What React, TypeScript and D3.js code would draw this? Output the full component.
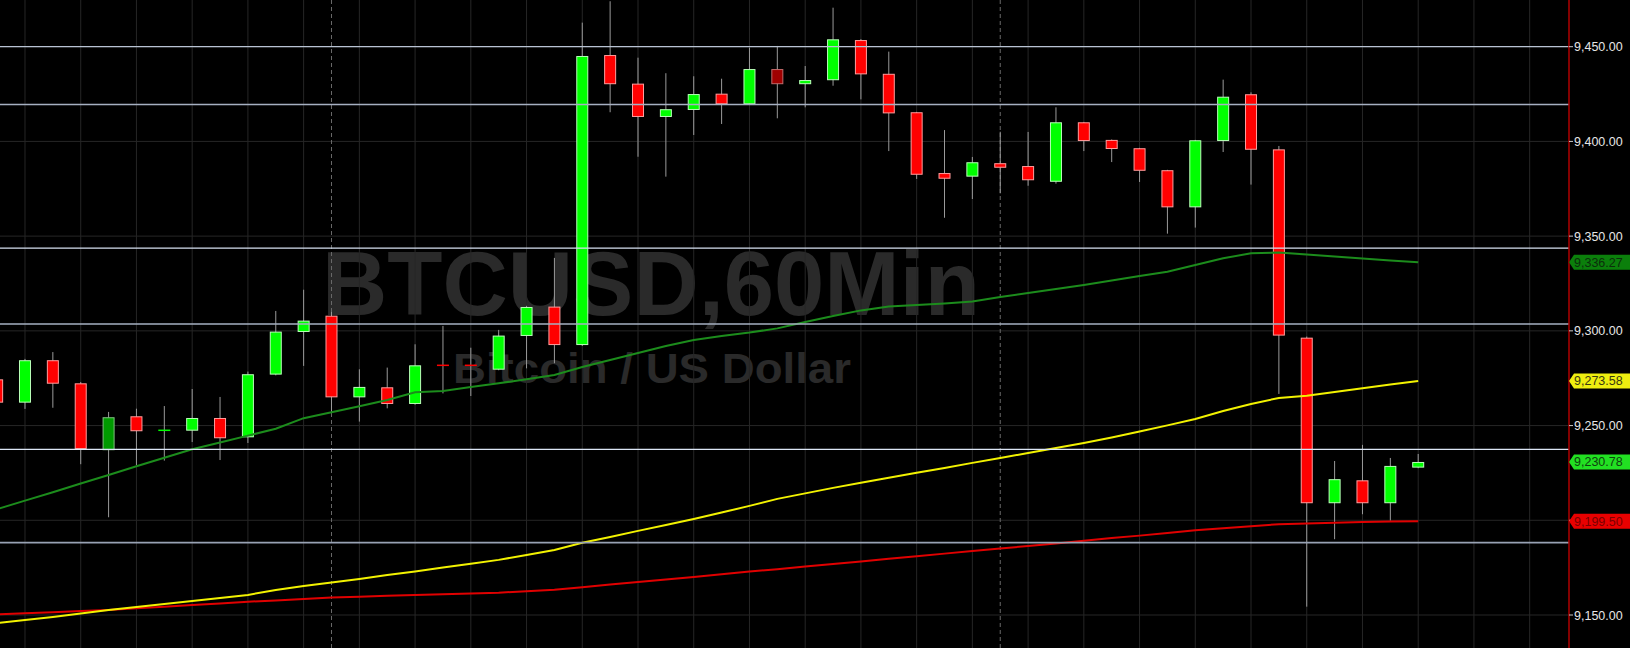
import React from 'react';
import * as d3 from 'd3';

// ---- data (BTCUSD 60 min) ----
const opens = [9274.4, 9262.1, 9284.5, 9272.3, 9237.0, 9254.9, 9247.3, 9247.3, 9254.0, 9243.8,
  9276.9, 9299.4, 9308.0, 9264.9, 9270.2, 9261.4, 9282.0, 9282.0, 9279.5, 9297.3,
  9312.8, 9292.5, 9445.6, 9430.5, 9412.9, 9416.6, 9425.2, 9419.6, 9438.2, 9430.2,
  9432.3, 9453.5, 9435.7, 9415.4, 9383.3, 9381.4, 9388.5, 9387.0, 9378.7, 9410.1,
  9400.8, 9396.4, 9384.8, 9365.2, 9400.2, 9424.9, 9395.8, 9296.4, 9209.0, 9221.1,
  9209.0, 9227.8];
const highs = [9278.0, 9285.2, 9288.8, 9273.0, 9257.2, 9258.9, 9260.3, 9269.3, 9265.1, 9278.5,
  9310.5, 9321.7, 9310.0, 9279.7, 9280.6, 9292.9, 9302.6, 9291.1, 9300.5, 9313.2,
  9338.5, 9462.7, 9474.0, 9444.2, 9436.0, 9434.4, 9433.1, 9449.5, 9450.4, 9439.8,
  9470.6, 9454.0, 9447.4, 9415.6, 9406.0, 9391.8, 9405.1, 9405.0, 9418.0, 9410.3,
  9401.0, 9396.6, 9385.0, 9400.8, 9432.6, 9425.9, 9397.6, 9297.0, 9231.3, 9239.8,
  9232.9, 9235.0];
const lows = [9258.0, 9258.8, 9259.4, 9229.6, 9201.6, 9229.2, 9231.5, 9241.3, 9231.8, 9240.8,
  9276.5, 9281.5, 9257.2, 9252.1, 9259.1, 9261.0, 9267.0, 9265.6, 9279.2, 9280.2,
  9282.9, 9292.0, 9415.4, 9391.9, 9381.4, 9403.4, 9409.2, 9419.4, 9412.2, 9418.0,
  9429.4, 9422.2, 9394.9, 9380.2, 9359.7, 9369.6, 9372.6, 9376.6, 9377.7, 9394.9,
  9389.1, 9378.6, 9351.3, 9354.5, 9394.4, 9377.2, 9266.7, 9154.4, 9190.0, 9203.2,
  9199.8, 9227.5];
const closes = [9262.1, 9284.5, 9272.1, 9237.6, 9254.4, 9247.0, 9247.7, 9254.0, 9243.3, 9277.1,
  9299.6, 9305.4, 9264.9, 9270.4, 9261.4, 9281.8, 9281.6, 9281.6, 9297.5, 9312.6,
  9292.5, 9445.1, 9430.2, 9412.9, 9417.0, 9425.0, 9419.6, 9438.2, 9430.2, 9432.4,
  9453.9, 9435.4, 9414.8, 9382.4, 9380.3, 9389.0, 9386.1, 9379.5, 9410.1, 9400.2,
  9396.0, 9384.5, 9365.2, 9400.6, 9423.6, 9395.6, 9297.5, 9209.0, 9221.7, 9209.0,
  9228.7, 9230.78];

// moving averages
const greenMA = [9205.9, 9210.4, 9214.8, 9219.4, 9223.9, 9228.5, 9233.0, 9237.5, 9241.1, 9244.7,
  9248.3, 9253.9, 9257.0, 9260.2, 9263.5, 9267.6, 9268.3, 9270.4, 9272.3, 9274.5,
  9276.7, 9280.9, 9284.6, 9288.3, 9292.0, 9295.2, 9297.3, 9299.1, 9301.3, 9304.7,
  9307.8, 9310.8, 9312.9, 9313.7, 9314.5, 9315.5, 9317.9, 9320.0, 9322.1, 9324.2,
  9326.6, 9329.0, 9331.2, 9334.8, 9338.3, 9340.9, 9341.3, 9340.3, 9339.3, 9338.2,
  9337.2, 9336.27];
const yellowMA = [9145.8, 9147.3, 9149.0, 9150.8, 9152.7, 9154.2, 9155.8, 9157.4, 9159.0, 9160.6,
  9163.2, 9165.3, 9167.2, 9169.0, 9171.1, 9173.0, 9175.1, 9177.0, 9179.1, 9181.7,
  9184.3, 9188.1, 9191.2, 9194.4, 9197.5, 9200.7, 9204.1, 9207.6, 9211.3, 9214.2,
  9217.1, 9219.8, 9222.4, 9225.1, 9227.6, 9230.3, 9232.9, 9235.5, 9238.2, 9240.8,
  9243.7, 9246.9, 9250.1, 9253.5, 9257.7, 9261.4, 9264.6, 9265.8, 9267.7, 9269.7,
  9271.7, 9273.58];
const redMA = [9150.3, 9150.9, 9151.5, 9152.1, 9152.7, 9153.6, 9154.4, 9155.3, 9156.1, 9157.0,
  9157.7, 9158.4, 9159.2, 9159.6, 9160.1, 9160.6, 9161.0, 9161.4, 9161.8, 9162.6,
  9163.3, 9164.7, 9166.1, 9167.4, 9168.8, 9170.1, 9171.5, 9172.9, 9174.2, 9175.6,
  9176.9, 9178.3, 9179.7, 9181.0, 9182.4, 9183.8, 9185.1, 9186.4, 9187.8, 9189.2,
  9190.6, 9191.9, 9193.3, 9194.7, 9195.8, 9196.9, 9197.9, 9198.3, 9198.7, 9199.1,
  9199.3, 9199.5];

const yTicks = [9150, 9200, 9250, 9300, 9350, 9400, 9450];
const levelPrices = [9450, 9419.5, 9343.7, 9303.6, 9237.4, 9188.2];
const sessionBreaks = [12, 36];
const mutedCandles = [4, 28];
const lastValues = [9336.27, 9273.58, 9230.78, 9199.5];

const levelStyles = [
  { c: '#b8c2d2', w: 1.3 },
  { c: '#a6b0c2', w: 1.6 },
  { c: '#d6e0f0', w: 1.2 },
  { c: '#a6b0c2', w: 1.6 },
  { c: '#dce6f6', w: 1.2 },
  { c: '#98a2b4', w: 1.8 },
];
const tagStyles = [
  { bg: '#0b7f0b', fg: '#0c2e0c' },
  { bg: '#eeee10', fg: '#3a3a10' },
  { bg: '#22e022', fg: '#104010' },
  { bg: '#e80000', fg: '#7a0000' },
];

const fmt = d3.format(',.2f');

export default function App() {
  const W = 1630;
  const H = 648;
  const axisX = 1569;
  const x = d3.scaleLinear().domain([0, 51]).range([-2.87, 1418.2]);
  const y = d3.scaleLinear().domain([9150, 9450]).range([615, 46.7]);
  const n = opens.length;
  const gridIdx = d3.range(1, 60, 2).filter((i) => x(i) < axisX - 2);
  const line = d3
    .line<number>()
    .x((_, i) => x(i))
    .y((v) => y(v));
  const font = "'Liberation Sans', Arial, sans-serif";
  const bodyW = 12;

  return (
    <div style={{ position: 'absolute', left: 0, top: 0, width: W, height: H, overflow: 'hidden' }}>
      <svg width={W} height={H} style={{ display: 'block', background: '#000' }}>
        <rect x={0} y={0} width={W} height={H} fill="#000" />
        {/* watermark */}
        <text x={322} y={315} fontFamily={font} fontWeight="bold" fontSize={91} fill="#2a2a2a"
          textLength={658} lengthAdjust="spacingAndGlyphs">BTCUSD,60Min</text>
        <text x={453} y={383} fontFamily={font} fontWeight="bold" fontSize={43} fill="#2a2a2a"
          textLength={398} lengthAdjust="spacingAndGlyphs">Bitcoin / US Dollar</text>
        {/* grid */}
        {yTicks.map((t) => (
          <line key={'hg' + t} x1={0} x2={axisX} y1={y(t)} y2={y(t)} stroke="#262626" strokeWidth={1} />
        ))}
        {gridIdx.map((i) => (
          <line key={'vg' + i} x1={x(i)} x2={x(i)} y1={0} y2={H} stroke="#262626" strokeWidth={1} />
        ))}
        {sessionBreaks.map((i) => (
          <line key={'sb' + i} x1={x(i)} x2={x(i)} y1={0} y2={H} stroke="#6a6a6a" strokeWidth={1}
            strokeDasharray="4,3" />
        ))}
        {/* candles */}
        {opens.map((o, i) => {
          const c = closes[i];
          const up = c >= o;
          const muted = mutedCandles.includes(i);
          const fill = up ? (muted ? '#009a00' : '#00ff00') : (muted ? '#a00000' : '#ff0000');
          const stroke = up ? (muted ? '#80c080' : '#b8ffb8') : (muted ? '#c06a6a' : '#ff9c9c');
          const cx = x(i);
          const top = y(Math.max(o, c));
          const bot = y(Math.min(o, c));
          const h = bot - top;
          return (
            <g key={'c' + i}>
              <line x1={cx} x2={cx} y1={y(highs[i])} y2={y(lows[i])} stroke="#9a9a9a" strokeWidth={1} />
              {h < 2 ? (
                <rect x={cx - bodyW / 2} y={(top + bot) / 2 - 0.75} width={bodyW} height={1.5} fill={fill} />
              ) : (
                <rect x={cx - bodyW / 2 + 0.5} y={top + 0.5} width={bodyW - 1} height={h - 1} fill={fill}
                  stroke={stroke} strokeWidth={1} />
              )}
            </g>
          );
        })}
        {/* moving averages */}
        <path d={line(redMA) || ''} fill="none" stroke="#e00000" strokeWidth={2} />
        <path d={line(yellowMA) || ''} fill="none" stroke="#f2f200" strokeWidth={2} />
        <path d={line(greenMA) || ''} fill="none" stroke="#1c8c1c" strokeWidth={2} />
        {/* level lines */}
        {levelPrices.map((p, i) => (
          <line key={'lv' + i} x1={0} x2={axisX} y1={y(p)} y2={y(p)} stroke={levelStyles[i].c}
            strokeWidth={levelStyles[i].w} />
        ))}
        {/* axis */}
        <rect x={axisX} y={0} width={W - axisX} height={H} fill="#000" />
        <line x1={axisX} x2={axisX} y1={0} y2={H} stroke="#b00000" strokeWidth={1.5} />
        {yTicks.map((t) => (
          <g key={'yt' + t}>
            <line x1={axisX} x2={axisX + 4} y1={y(t)} y2={y(t)} stroke="#c8c8c8" strokeWidth={1} />
            <text x={axisX + 5} y={y(t)} dy="0.36em" fontFamily={font} fontSize={12.5} fill="#e6e6e6">
              {fmt(t)}
            </text>
          </g>
        ))}
        {/* last-value tags */}
        {lastValues.map((v, i) => {
          const ty = y(v);
          const pts = [
            [axisX, ty],
            [axisX + 5, ty - 7.5],
            [W, ty - 7.5],
            [W, ty + 7.5],
            [axisX + 5, ty + 7.5],
          ];
          return (
            <g key={'tag' + i}>
              <polygon points={pts.map((p) => p.join(',')).join(' ')} fill={tagStyles[i].bg} />
              <text x={axisX + 5} y={ty} dy="0.36em" fontFamily={font} fontSize={12.5} fill={tagStyles[i].fg}>
                {fmt(v)}
              </text>
            </g>
          );
        })}
      </svg>
    </div>
  );
}
